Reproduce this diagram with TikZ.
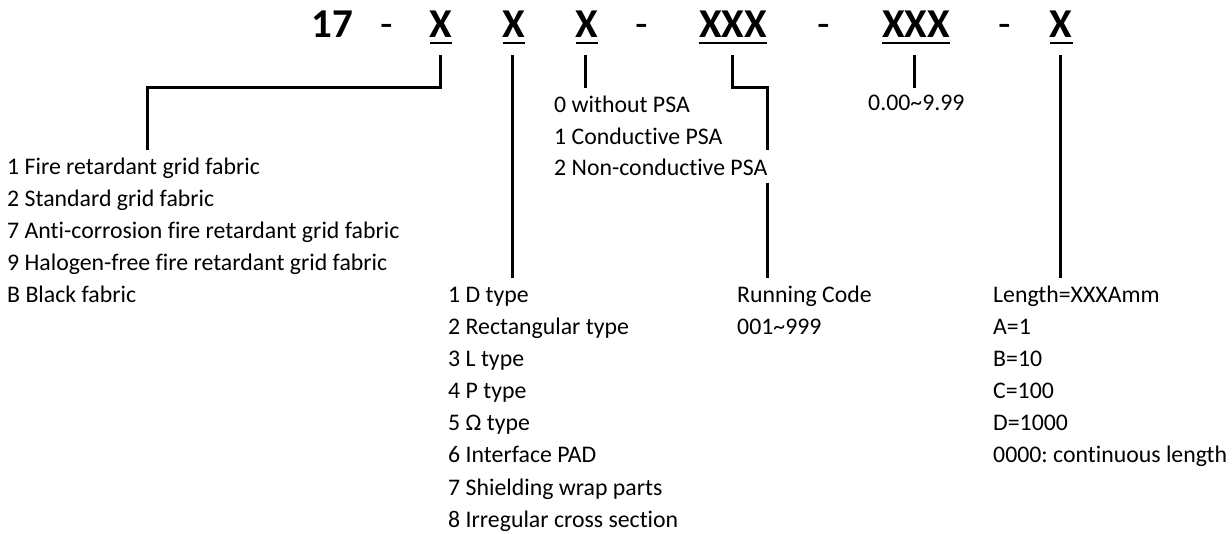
\documentclass[tikz,border=0pt]{standalone}
\usepackage{fontspec}
\setmainfont{Carlito}[Ligatures=NoCommon]
\usetikzlibrary{calc}
\frenchspacing

\newcommand\codefont{\fontsize{41}{48}\selectfont\bfseries}
\newcommand\dashfont{\fontsize{41}{48}\selectfont}
\newcommand\itemfont{\fontsize{23.8}{32}\selectfont}

\tikzset{
  code/.style={font=\codefont, inner sep=0pt, anchor=base},
  sep/.style={font=\dashfont, inner sep=0pt, anchor=base},
  item/.style={font=\itemfont, inner sep=0pt, anchor=base west},
  lead/.style={line width=3pt},
  uline/.style={line width=2.6pt}
}

\begin{document}
\begin{tikzpicture}[x=1pt,y=-1pt]
    \useasboundingbox (0,0) rectangle (1232,534);

    \node[code] (n17) at (332,38) {17};
    \node[sep] (dash1) at (387,38) {-};
    \node[code] (x1) at (441,38) {X};
    \node[code] (x2) at (514,38) {X};
    \node[code] (x3) at (587,38) {X};
    \node[sep] (dash2) at (642,38) {-};
    \node[code] (xxx1) at (733,38) {XXX};
    \node[sep] (dash3) at (824,38) {-};
    \node[code] (xxx2) at (916,38) {XXX};
    \node[sep] (dash4) at (1005,38) {-};
    \node[code] (x4) at (1061,38) {X};

    \foreach \n in {x1,x2,x3,xxx1,xxx2,x4}
      \draw[uline] ($(\n.base west)+(0,5)$) -- ($(\n.base east)+(0,5)$);

    \foreach \t [count=\i] in {1 Fire retardant grid fabric, 2 Standard grid fabric,
        7 Anti-corrosion fire retardant grid fabric, 9 Halogen-free fire retardant grid fabric,
        B Black fabric}
      \node[item] (fab\i) at (7,143+32*\i) {\t};

    \foreach \t [count=\i] in {0 without PSA, 1 Conductive PSA, 2 Non-conductive PSA}
      \node[item] (psa\i) at (554,81.5+31.5*\i) {\t};

    \node[item] (ratio) at (868,111) {0.00\textasciitilde9.99};

    \foreach \t [count=\i] in {1 D type, 2 Rectangular type, 3 L type, 4 P type,
        5 Ω type, 6 Interface PAD, 7 Shielding wrap parts, 8 Irregular cross section}
      \node[item] (type\i) at (448,271+32*\i) {\t};

    \node[item] (run1) at (737,303) {Running Code};
    \node[item] (run2) at (737,335) {001\textasciitilde999};

    \foreach \t [count=\i] in {Length=XXXAmm, A=1, B=10, C=100, D=1000,
        0000: continuous length}
      \node[item] (len\i) at (993,271+32*\i) {\t};

    \draw[lead] ($(x1.base)+(-1,17)$) -- ++(0,33) -| ($(fab1.base west)+(140,-25)$);
    \draw[lead] ($(x2.base)+(-2,17)$) -- ($(x2.base |- type1.base)+(-2,-25)$);
    \draw[lead] ($(x3.base)+(-2,17)$) -- ($(x3.base |- psa1.base)+(-2,-25)$);
    \draw[lead] ($(xxx1.base)+(-1,17)$) -- ++(0,33) -| ($(psa3.base east)+(0,-26)$);
    \draw[lead] ($(psa3.base east)+(0,7)$) -- ($(psa3.base east |- run1.base)+(0,-25)$);
    \draw[lead] ($(xxx2.base)+(-2,17)$) -- ($(xxx2.base |- ratio.base)+(-2,-23)$);
    \draw[lead] ($(x4.base)+(-1,17)$) -- ($(x4.base |- len1.base)+(-1,-25)$);
\end{tikzpicture}
\end{document}
